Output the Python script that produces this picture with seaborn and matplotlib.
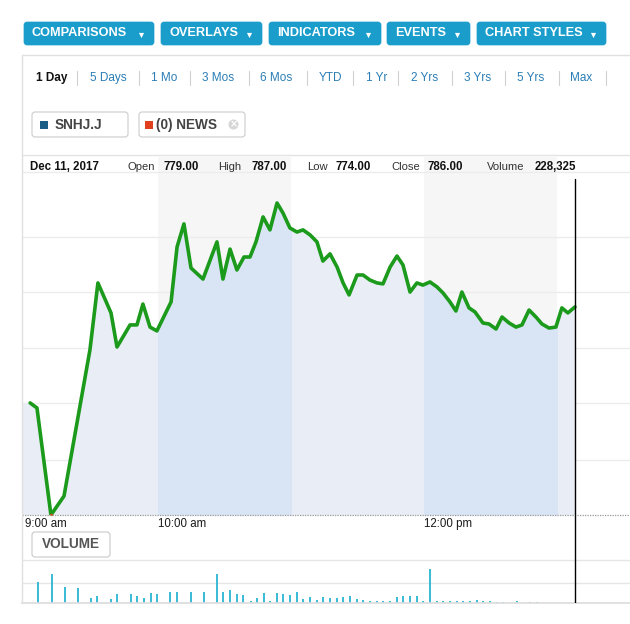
import numpy as np
import pandas as pd
import matplotlib
matplotlib.use("Agg")
import matplotlib.pyplot as plt
import seaborn as sns
from matplotlib.patches import FancyBboxPatch, Rectangle, Circle

# ---------------- data ----------------
price_minutes = [2.3, 5.4, 11.7, 17.6, 29.3, 32.9, 38.8, 41.5, 47.4, 50.5, 53.2, 56.4, 59.5,
                 65.9, 68.6, 71.7, 74.9, 80.3, 86.6, 89.3, 92.5, 95.6, 98.8, 101.5, 104.2,
                 107.4, 110.5, 113.7, 116.4, 119.5, 122.7, 125.4, 128.6, 131.7, 134.4, 137.6,
                 140.8, 143.5, 146.2, 149.8, 152.5, 155.6, 158.8, 161.5, 164.7, 167.8, 170.5,
                 173.7, 176.8, 179.5, 182.7, 185.9, 188.6, 191.7, 194.4, 197.1, 200.3, 203.0,
                 206.6, 209.3, 212.5, 215.2, 218.4, 221.5, 224.2, 227.4, 230.5, 233.2, 236.4,
                 239.5, 242.2, 244.9, 248.1]
price_values = [778.67, 778.46, 774.00, 774.79, 780.88, 783.67, 782.42, 781.00, 781.92, 781.92,
                782.79, 781.83, 781.67, 782.88, 785.17, 786.13, 784.29, 783.83, 785.38, 783.83,
                785.08, 784.21, 784.75, 784.75, 785.38, 786.42, 785.88, 787.00, 786.58, 785.96,
                785.79, 785.88, 785.67, 785.38, 784.58, 784.88, 784.33, 783.67, 783.17, 784.00,
                784.00, 783.79, 783.67, 783.63, 784.33, 784.79, 784.42, 783.29, 783.67, 783.58,
                783.71, 783.50, 783.25, 782.88, 782.50, 783.29, 782.63, 782.46, 782.00, 781.96,
                781.75, 782.25, 782.00, 781.83, 781.92, 782.54, 782.25, 781.96, 781.79, 781.83,
                782.63, 782.42, 782.67]

volume_minutes = [5.9, 12.2, 18.0, 23.9, 29.8, 32.5, 38.8, 41.5, 47.8, 50.5, 53.7, 56.8, 59.5,
                  65.4, 68.6, 74.9, 80.7, 86.6, 89.3, 92.5, 95.6, 98.3, 101.9, 104.7, 107.8,
                  110.5, 113.7, 116.4, 119.5, 122.7, 125.4, 128.6, 131.7, 134.4, 137.6, 140.8,
                  143.5, 146.6, 149.8, 152.5, 155.6, 158.8, 161.5, 164.7, 167.8, 170.5, 173.7,
                  176.8, 179.5, 182.7, 185.9, 188.6, 191.7, 194.9, 197.6, 200.8, 203.9, 206.6,
                  209.8, 212.9, 215.6, 221.9, 227.8, 231.0]
volume_values = [20700, 29000, 16300, 14700, 5000, 7300, 4000, 9000, 9000, 6700, 5000, 10000,
                 9000, 11300, 11300, 11300, 11300, 29000, 11300, 13300, 9000, 8000, 2300, 5000,
                 10000, 2300, 10000, 9000, 8000, 11300, 4500, 6000, 3000, 5700, 5000, 4700, 5700,
                 7300, 4000, 3000, 1700, 1700, 1700, 2300, 6300, 6700, 6700, 7300, 1700, 34000,
                 1700, 1700, 2300, 2300, 2300, 1700, 3300, 1700, 1700, 1000, 1000, 1700, 1000, 1000]

tick_minutes = [0, 60, 180]
tick_labels = ["9:00 am", "10:00 am", "12:00 pm"]

menu_labels = ["COMPARISONS", "OVERLAYS", "INDICATORS", "EVENTS", "CHART STYLES"]
range_labels = ["1 Day", "5 Days", "1 Mo", "3 Mos", "6 Mos", "YTD", "1 Yr", "2 Yrs", "3 Yrs",
                "5 Yrs", "Max"]
legend_labels = ["SNHJ.J", "(0) NEWS"]
info_date = "Dec 11, 2017"
info_fields = ["Open", "High", "Low", "Close", "Volume"]
info_values = ["779.00", "787.00", "774.00", "786.00", "228,325"]

# ---------------- setup ----------------
sns.set_theme(style="white")
plt.rcParams['font.family'] = ['Liberation Sans', 'DejaVu Sans']

W, H = 630, 624
fig = plt.figure(figsize=(W / 100, H / 100), dpi=100)
fig.patch.set_facecolor("white")


def rect(x0, y0, x1, y1):
    return [x0 / W, 1 - y1 / H, (x1 - x0) / W, (y1 - y0) / H]


PXM = 133 / 60.0     # pixels per minute
X0 = 25              # pixel of 9:00
PPX = 24.0           # pixels per price unit
BASE = 774.0
xl = ((22 - X0) / PXM, (630 - X0) / PXM)

# ---------------- main price axes ----------------
ax = fig.add_axes(rect(22, 157, 630, 515))
ax.set_xlim(*xl)
ax.set_ylim(BASE, BASE + (515 - 157) / PPX)
for s in ax.spines.values():
    s.set_visible(False)
ax.set_facecolor("white")

grid_levels = [BASE + (515 - y) / PPX for y in (460, 403, 348, 292, 237, 172)]
ax.set_yticks(grid_levels)
ax.set_yticklabels([])
ax.tick_params(axis='y', length=0)
ax.grid(axis='y', color='#ececec', lw=1)
ax.set_axisbelow(True)

for a, b in [(60, 120), (180, 240)]:
    ax.axvspan(a, b, color='#f6f6f6', lw=0, zorder=0.5)

fx = [xl[0]] + price_minutes
fy = [price_values[0]] + price_values
ax.fill_between(fx, fy, BASE, color='#e9eef6', lw=0, zorder=1)
for a, b in [(60, 120), (180, 240)]:
    poly = ax.fill_between(fx, fy, BASE, color='#d9e5f5', lw=0, zorder=1.2)
    poly.set_clip_path(Rectangle((a, BASE), b - a, 30, transform=ax.transData))

df = pd.DataFrame({"minute": price_minutes, "price": price_values})
sns.lineplot(data=df, x="minute", y="price", color='#1b9a1b', lw=2.6, ax=ax, zorder=3)
imin = int(np.argmin(price_values))
ax.scatter([price_minutes[imin]], [price_values[imin]], s=7, color='#d4541e', zorder=4, lw=0)

ax.axhline(BASE, color='#9a9a9a', ls=(0, (1, 1)), lw=0.9, zorder=4, clip_on=False)
ax.axvline(price_minutes[-1], ymin=0, ymax=(515 - 179) / (515 - 157), color='black', lw=1, zorder=5)

ax.set_xlabel("")
ax.set_ylabel("")
ax.set_xticks(tick_minutes)
ax.set_xticklabels(tick_labels)
ax.tick_params(axis='x', length=0, pad=2.5, labelsize=8.3, labelcolor='#1a1a1a')
for lbl in ax.get_xticklabels():
    lbl.set_ha('left')

# ---------------- volume axes ----------------
av = fig.add_axes(rect(22, 515, 630, 603))
av.set_xlim(*xl)
av.set_ylim(0, 88000)
av.patch.set_alpha(0)
for k, s in av.spines.items():
    s.set_visible(k == 'bottom')
av.spines['bottom'].set_color('#dddddd')
av.set_xticks([])
av.set_yticks([20000, 43000])
av.set_yticklabels([])
av.tick_params(axis='y', length=0)
av.grid(axis='y', color='#e6e6e6', lw=1)
av.set_axisbelow(True)
av.bar(volume_minutes, volume_values, width=0.9, color='#3dbcd8', lw=0, zorder=2)
av.axvline(price_minutes[-1], color='black', lw=1, zorder=5)

# ---------------- overlay (header, buttons) ----------------
ov = fig.add_axes([0, 0, 1, 1], zorder=10)
ov.set_xlim(0, W)
ov.set_ylim(H, 0)
ov.axis('off')
ov.patch.set_alpha(0)

# panel borders
ov.plot([22, 630], [55, 55], color='#e0e0e0', lw=1)
ov.plot([22, 22], [55, 603], color='#e0e0e0', lw=1)
ov.plot([22, 630], [155, 155], color='#e3e3e3', lw=1)

# menu buttons
btn_box = [(24, 154), (161, 262), (269, 381), (387, 470), (477, 606)]
for (x0, x1), lab in zip(btn_box, menu_labels):
    ov.add_patch(FancyBboxPatch((x0, 22), x1 - x0, 23, boxstyle="round,pad=0,rounding_size=3",
                                fc='#1a9dcb', ec='#1a9dcb', lw=0.5))
    ov.text(x0 + 8, 33.5, lab, color='white', fontsize=9.2, fontweight='bold', va='center', ha='left')
    ov.scatter([x1 - 13], [34.5], marker='v', s=14, color='white', lw=0)

# time range row
range_x = [35.5, 89.7, 151, 202, 260.5, 319, 365.5, 411, 463.6, 517, 570]
sep_x = [77, 139, 190, 249, 307, 353, 398, 451.5, 505, 559, 606]
for i, (x, lab) in enumerate(zip(range_x, range_labels)):
    if i == 0:
        ov.text(x, 78, lab, color='#111111', fontsize=8.5, fontweight='bold', va='center', ha='left')
    else:
        ov.text(x, 78, lab, color='#2a7db5', fontsize=8.5, va='center', ha='left')
for x in sep_x:
    ov.plot([x, x], [71, 85], color='#d0d0d0', lw=0.8)

# legend chips
ov.add_patch(FancyBboxPatch((32, 112), 96, 25, boxstyle="round,pad=0,rounding_size=3",
                            fc='white', ec='#cccccc', lw=0.8))
ov.add_patch(Rectangle((40, 120.5), 8, 8, fc='#1b5e85', lw=0))
ov.text(54.5, 125, legend_labels[0], color='#444444', fontsize=9.8, fontweight='bold', va='center')
ov.add_patch(FancyBboxPatch((139, 112), 106, 25, boxstyle="round,pad=0,rounding_size=3",
                            fc='white', ec='#cccccc', lw=0.8))
ov.add_patch(Rectangle((145, 120.5), 8, 8, fc='#e2401c', lw=0))
ov.text(155.5, 125, legend_labels[1], color='#444444', fontsize=9.8, fontweight='bold', va='center')
ov.add_patch(Circle((233.5, 124.5), 5, fc='#d6d6d6', lw=0))
ov.text(233.5, 124.7, "×", color='white', fontsize=7, fontweight='bold', ha='center', va='center',
        family=['DejaVu Sans'])

# info row
ov.text(30, 167, info_date, color='#111111', fontsize=8.3, fontweight='bold', va='center')
field_x = [127, 218, 307, 391, 487]
value_x = [163, 251, 335, 427, 535]
for fxp, vx, f, v in zip(field_x, value_x, info_fields, info_values):
    ov.text(fxp, 167, f, color='#333333', fontsize=8.1, va='center')
    ov.text(vx, 167, v, color='#111111', fontsize=8.3, fontweight='bold', va='center')

# VOLUME button
ov.add_patch(FancyBboxPatch((32, 532), 78, 25, boxstyle="round,pad=0,rounding_size=3",
                            fc='white', ec='#c8c8c8', lw=0.8))
ov.text(71, 544.5, "VOLUME", color='#555555', fontsize=9.8, fontweight='bold', va='center', ha='center')

fig.savefig("out.png", dpi=100, facecolor='white')
